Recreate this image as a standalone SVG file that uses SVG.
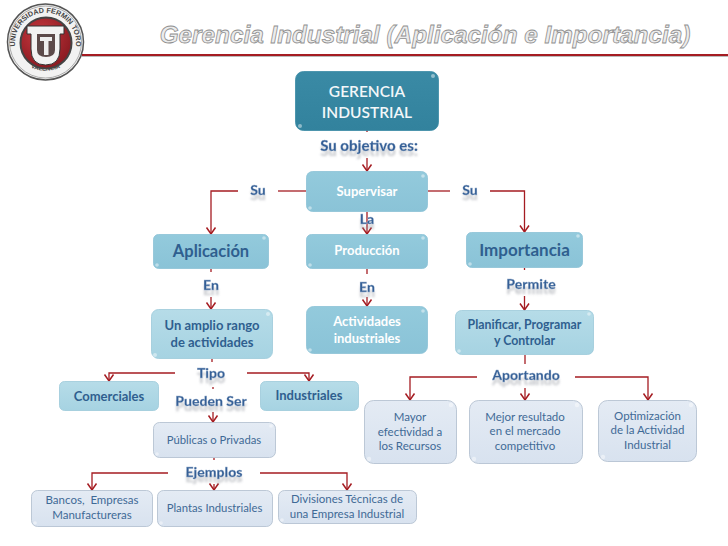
<svg xmlns="http://www.w3.org/2000/svg" width="728" height="546" viewBox="0 0 728 546">
<style>
text{font-family:"Lato","Open Sans","Liberation Sans",sans-serif;text-anchor:middle}
.n rect{stroke-width:.8}
.n circle{fill:#fff;opacity:.45;filter:url(#soft)}
.dark{fill:url(#gDark);stroke:#3a8aa5}
.mid{fill:url(#gMid);stroke:#8cc2d6}
.pale{fill:url(#gPale);stroke:#9cc9d9}
.soft{fill:url(#gSoft);stroke:#aebdcd}
.w{fill:#fff;font-weight:700}
.b{fill:#2f5f8f;font-weight:700}
.s{fill:#3f6a96;white-space:pre}
.lab{fill:#345f96;font-weight:900;font-size:14px;stroke:#9fb4cf;stroke-width:.3;filter:url(#refl)}
#connectors path{fill:none;stroke:#a51c22;stroke-width:1.3}
#connectors path.a{marker-end:url(#arrow)}
.seal{font-family:"Liberation Sans",sans-serif;font-size:7.200px;font-weight:700;fill:#444}
</style>
<defs>
<linearGradient id="gDark" x1="0" y1="0" x2="0" y2="1"><stop offset="0" stop-color="#3a8aa5"/><stop offset="1" stop-color="#32829d"/></linearGradient>
<linearGradient id="gMid" x1="0" y1="0" x2="0" y2="1"><stop offset="0" stop-color="#93cadc"/><stop offset="1" stop-color="#8ac3d7"/></linearGradient>
<linearGradient id="gPale" x1="0" y1="0" x2="0" y2="1"><stop offset="0" stop-color="#b6dce8"/><stop offset="1" stop-color="#a6d3e2"/></linearGradient>
<linearGradient id="gSoft" x1="0" y1="0" x2="0" y2="1"><stop offset="0" stop-color="#e4ebf4"/><stop offset="1" stop-color="#d8e2ef"/></linearGradient>
<radialGradient id="gDisc" cx=".4" cy=".35" r=".8"><stop offset="0" stop-color="#c8383f"/><stop offset="1" stop-color="#7d141b"/></radialGradient>
<filter id="soft" x="-50%" y="-50%" width="200%" height="200%"><feGaussianBlur stdDeviation=".7"/></filter>
<filter id="refl" x="-30%" y="-30%" width="160%" height="190%">
<feGaussianBlur in="SourceAlpha" stdDeviation="1.100" result="a"/>
<feOffset in="a" dy="5" result="b"/>
<feFlood flood-color="#8a8f98" flood-opacity=".42"/>
<feComposite in2="b" operator="in" result="c"/>
<feMerge><feMergeNode in="c"/><feMergeNode in="SourceGraphic"/></feMerge>
</filter>
<marker id="arrow" markerUnits="userSpaceOnUse" markerWidth="14" markerHeight="14" refX="10" refY="7" orient="auto" viewBox="0 0 14 14">
<path d="M3.500 2.500 L10 7 L3.500 11.500" fill="none" stroke="#a51c22" stroke-width="1.500"/>
</marker>
<path id="arcTop" d="M20 60 A30.500 30.500 0 1 1 71 60"/>
<path id="arcBot" d="M22 62 A36 36 0 0 0 69 62"/>
</defs>
<rect width="728" height="546" fill="#fff"/>

<g id="logo">
<circle cx="45.500" cy="42" r="38" fill="#f2f2f2" stroke="#555" stroke-width="1.500"/>
<circle cx="45.500" cy="42" r="36" fill="none" stroke="#999" stroke-width=".8"/>
<text class="seal"><textPath href="#arcTop" startOffset="50%">UNIVERSIDAD FERMIN TORO</textPath></text>
<text class="seal" style="font-size:6px"><textPath href="#arcBot" startOffset="50%">VALENCIA</textPath></text>
<circle cx="46" cy="43" r="25.500" fill="url(#gDisc)" stroke="#444" stroke-width="2"/>
<path d="M27 26 H64 V34 H60 V49 Q60 65 45.500 65 Q31 65 31 49 V34 H27 Z" fill="#f2f2f2" stroke="#333" stroke-width="1"/>
<path d="M37 34 H55 V50 Q55 57 46 57 Q37 57 37 50 Z" fill="#5c4a4a"/>
<path d="M40 37 H52 V41 H48.500 V55 H44 V41 H40 Z" fill="#eee"/>
</g>

<path d="M82 55 H728" stroke="#a51c22" stroke-width="2" fill="none"/>
<path d="M82 56.500 H728" stroke="#bbb" stroke-width="1" fill="none"/>
<text id="title" x="425" y="43" style="font-family:'Liberation Sans',sans-serif;font-size:24.300px;font-weight:700;font-style:italic;fill:#ececec;stroke:#8f8f8f;stroke-width:.8">Gerencia Industrial (Aplicación e Importancia)</text>

<g id="connectors">
<path d="M367 130 V132"/>
<path class="a" d="M367 158 V171"/>
<path d="M306 191 H278"/>
<path class="a" d="M238 191 H211 V234"/>
<path d="M428 191 H450"/>
<path class="a" d="M490 191 H524.500 V232"/>
<path class="a" d="M367 212 V234"/>
<path d="M211 269 V272"/>
<path class="a" d="M211 297 V309"/>
<path d="M367 269 V274"/>
<path class="a" d="M367 297 V306"/>
<path d="M524.500 268 V270"/>
<path class="a" d="M524.500 296 V310"/>
<path d="M212 359 V362"/>
<path class="a" d="M175 373 H109 V381"/>
<path class="a" d="M247 373 H309 V381"/>
<path d="M213 387 V389"/>
<path class="a" d="M213 412 V422"/>
<path d="M214 458 V460"/>
<path class="a" d="M168 473 H92 V490"/>
<path class="a" d="M214 484 V490"/>
<path class="a" d="M260 473 H347 V490"/>
<path d="M525 355 V364"/>
<path class="a" d="M477 377 H410 V400"/>
<path class="a" d="M525 388 V400"/>
<path class="a" d="M575 377 H648 V400"/>
</g>

<g id="n-gerencia" class="n"><rect class="dark" x="295.500" y="71.500" width="143" height="59" rx="8"/><circle cx="433" cy="76" r="2"/><circle cx="300" cy="126" r="2"/><text font-weight="600" fill="#f3f7f9" font-size="15.500" x="367" y="97">GERENCIA</text><text font-weight="600" fill="#f3f7f9" font-size="15.500" x="367" y="118">INDUSTRIAL</text></g>
<g id="n-supervisar" class="n"><rect class="mid" x="306.500" y="171.500" width="121" height="40" rx="6"/><circle cx="423" cy="176" r="1.800"/><circle cx="310" cy="208" r="1.800"/><text class="w" font-size="13" x="367" y="196">Supervisar</text></g>
<g id="n-aplicacion" class="n"><rect class="mid" x="153.500" y="234.500" width="115" height="34" rx="5"/><circle cx="264" cy="238" r="1.800"/><circle cx="157" cy="265" r="1.800"/><text class="b" font-size="16.500" x="211" y="257">Aplicación</text></g>
<g id="n-produccion" class="n"><rect class="mid" x="306.500" y="234.500" width="121" height="34" rx="5"/><circle cx="423" cy="238" r="1.800"/><circle cx="310" cy="265" r="1.800"/><text class="w" font-size="13" x="367" y="255">Producción</text></g>
<g id="n-importancia" class="n"><rect class="mid" x="466.500" y="232.500" width="116" height="35" rx="5"/><circle cx="578" cy="236" r="1.800"/><circle cx="470" cy="264" r="1.800"/><text class="b" font-size="17" x="524.500" y="256">Importancia</text></g>
<g id="n-amplio" class="n"><rect class="pale" x="151.500" y="309.500" width="121" height="49" rx="7"/><circle cx="268" cy="314" r="2"/><circle cx="155" cy="355" r="2"/><text class="b" font-size="13" x="212" y="330">Un amplio rango</text><text class="b" font-size="13" x="212" y="347">de actividades</text></g>
<g id="n-actividades" class="n"><rect class="mid" x="306.500" y="306.500" width="121" height="47" rx="7"/><circle cx="423" cy="311" r="1.800"/><circle cx="310" cy="350" r="1.800"/><text class="w" font-size="13" x="367" y="326">Actividades</text><text class="w" font-size="13" x="367" y="343">industriales</text></g>
<g id="n-planificar" class="n"><rect class="pale" x="455.500" y="310.500" width="138" height="44" rx="6"/><circle cx="589" cy="314" r="1.800"/><circle cx="459" cy="351" r="1.800"/><text class="b" font-size="12.300" x="524.500" y="329">Planificar, Programar</text><text class="b" font-size="12.300" x="524.500" y="345">y Controlar</text></g>
<g id="n-comerciales" class="n"><rect class="pale" x="59.500" y="381.500" width="99" height="29" rx="5"/><text class="b" font-size="13" x="109" y="401">Comerciales</text></g>
<g id="n-industriales" class="n"><rect class="pale" x="260.500" y="381.500" width="98" height="29" rx="5"/><text class="b" font-size="13" x="309" y="400">Industriales</text></g>
<g id="n-publicas" class="n"><rect class="soft" x="153.500" y="422.500" width="122" height="35" rx="6"/><circle cx="271" cy="426" r="1.800"/><circle cx="157" cy="454" r="1.800"/><text class="s" font-size="11.300" x="214" y="444">Públicas o Privadas</text></g>
<g id="n-bancos" class="n"><rect class="soft" x="31.500" y="490.500" width="121" height="36" rx="6"/><circle cx="35" cy="523" r="1.800"/><text class="s" font-size="11.500" x="92" y="504">Bancos,  Empresas</text><text class="s" font-size="11.500" x="92" y="519">Manufactureras</text></g>
<g id="n-plantas" class="n"><rect class="soft" x="157.500" y="490.500" width="115" height="36" rx="6"/><circle cx="161" cy="523" r="1.800"/><text class="s" font-size="11.300" x="214.500" y="512">Plantas Industriales</text></g>
<g id="n-divisiones" class="n"><rect class="soft" x="278.500" y="490.500" width="138" height="33" rx="6"/><circle cx="282" cy="520" r="1.800"/><text class="s" font-size="11.500" x="347" y="503">Divisiones Técnicas de</text><text class="s" font-size="11.500" x="347" y="518">una Empresa Industrial</text></g>
<g id="n-mayor" class="n"><rect class="soft" x="364.500" y="400.500" width="92" height="63" rx="9"/><circle cx="451" cy="405" r="2.200"/><circle cx="369" cy="459" r="2.200"/><text class="s" font-size="11.500" x="410" y="421">Mayor</text><text class="s" font-size="11.500" x="410" y="436">efectividad a</text><text class="s" font-size="11.500" x="410" y="450">los Recursos</text></g>
<g id="n-mejor" class="n"><rect class="soft" x="469.500" y="400.500" width="113" height="63" rx="9"/><circle cx="577" cy="405" r="2.200"/><circle cx="474" cy="459" r="2.200"/><text class="s" font-size="11.500" x="525" y="421">Mejor resultado</text><text class="s" font-size="11.500" x="525" y="435">en el mercado</text><text class="s" font-size="11.500" x="525" y="450">competitivo</text></g>
<g id="n-optim" class="n"><rect class="soft" x="598.500" y="400.500" width="98" height="61" rx="9"/><circle cx="691" cy="405" r="2.200"/><circle cx="603" cy="457" r="2.200"/><text class="s" font-size="11.500" x="647.500" y="420">Optimización</text><text class="s" font-size="11.500" x="647.500" y="434">de la Actividad</text><text class="s" font-size="11.500" x="647.500" y="449">Industrial</text></g>

<g id="labels">
<text class="lab" style="font-size:15px" x="369" y="151">Su objetivo es:</text>
<text class="lab" x="258" y="195">Su</text>
<text class="lab" x="470" y="195">Su</text>
<text class="lab" x="367" y="224">La</text>
<text class="lab" x="211" y="290">En</text>
<text class="lab" x="367" y="292">En</text>
<text class="lab" x="531" y="289">Permite</text>
<text class="lab" x="211" y="378">Tipo</text>
<text class="lab" x="211" y="406">Pueden Ser</text>
<text class="lab" x="526" y="380">Aportando</text>
<text class="lab" x="214" y="477">Ejemplos</text>
</g>
</svg>
